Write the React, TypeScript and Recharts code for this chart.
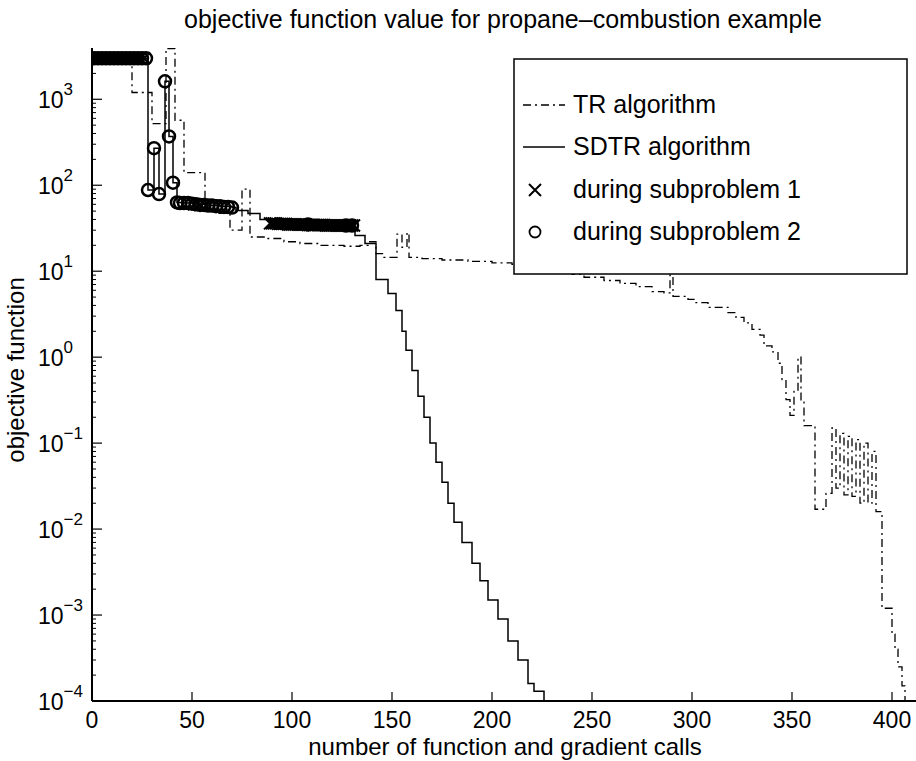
import React from 'react';
import { ComposedChart, Line, Scatter, XAxis, YAxis } from 'recharts';

const FONT = '"Liberation Sans", Arial, Helvetica, sans-serif';

// TR algorithm: call count where each value starts, and the objective value
const trCalls = [0, 20, 30, 37, 41.5, 46, 56.5, 62, 63, 69, 75, 79, 88, 96, 104, 114, 126, 134, 138, 142, 146, 152.5, 155, 157.5, 158.5, 165, 175, 188, 200, 210, 222, 232, 240, 246, 256, 264, 272, 280, 286, 289, 290.5, 298, 302, 308, 314, 318, 322, 326, 330, 334, 336, 340, 343, 345, 347, 349, 351, 353, 354.5, 356, 361.5, 367, 370, 372, 374, 376, 378, 380, 382, 384, 386, 388, 390, 392, 395, 400, 401.5, 403, 405, 406.5];
const trValues = [3000, 1200, 520, 3900, 570, 140, 68, 55, 47, 30, 90, 25, 24, 22, 21, 20, 19.5, 20, 22, 16, 14.5, 27, 19, 28, 14.5, 14, 13.5, 13, 12.5, 12, 11, 10, 9.2, 8.5, 7.8, 7.2, 6.6, 5.8, 5.6, 9, 5.1, 4.7, 4.3, 3.8, 3.8, 3.3, 2.9, 2.5, 2.1, 1.8, 1.35, 1.15, 0.85, 0.55, 0.32, 0.21, 0.4, 1.0, 0.3, 0.16, 0.017, 0.026, 0.15, 0.03, 0.13, 0.025, 0.12, 0.024, 0.11, 0.02, 0.1, 0.02, 0.08, 0.016, 0.0012, 0.0006, 0.0004, 0.00025, 0.00015, 0.00005];

// SDTR algorithm
const sdtrCalls = [0, 28, 31, 33.5, 36.5, 38.5, 40.5, 42.5, 46, 52, 58, 64, 70, 72, 78, 84, 89, 100, 115, 125, 131.5, 136.5, 142, 148, 152, 155, 157, 160, 163, 166, 169, 172, 175, 178, 181, 185, 190, 194, 198, 203, 208, 213, 218, 221, 226];
const sdtrValues = [3000, 88, 270, 79, 1620, 370, 107, 63, 62, 60, 58, 57, 55, 51, 47, 40, 36, 35, 34.5, 34, 26, 21, 8, 5.5, 3.5, 2.0, 1.2, 0.7, 0.35, 0.2, 0.1, 0.06, 0.035, 0.02, 0.012, 0.007, 0.004, 0.0025, 0.0015, 0.0009, 0.0005, 0.0003, 0.00016, 0.00013, 0.00005];

// iterates during subproblem 1 (x)
const sub1Calls = [0, 2, 4, 6, 8, 10, 12, 14, 16, 18, 20, 22, 24, 26, 51, 54, 57,
  89, 90, 91, 92, 93, 94, 95, 96, 97, 98, 99, 100, 101, 102, 103, 104, 105, 106, 107, 108, 109, 110,
  111, 112, 113, 114, 115, 116, 117, 118, 119, 120, 121, 122, 123, 124, 125, 126, 127, 128, 129, 130, 131];
const sub1Values = [3000, 3000, 3000, 3000, 3000, 3000, 3000, 3000, 3000, 3000, 3000, 3000, 3000, 3000, 60, 59, 58,
  36, 36, 36, 36, 35.5, 35.5, 35.5, 35.5, 35.5, 35, 35, 35, 35, 35, 35, 35, 35, 35, 35, 34.5, 34.5,
  34.5, 34.5, 34.5, 34.5, 34.5, 34.5, 34.5, 34, 34, 34, 34, 34, 34, 34, 34, 34, 34, 34, 34, 34, 34, 34];
// iterates during subproblem 2 (o)
const sub2Calls = [1, 3, 5, 7, 9, 11, 13, 15, 17, 19, 21, 23, 25, 27,
  28, 31, 33.5, 36.5, 38.5, 40.5, 42.5, 44, 46, 48, 50, 52, 54, 56, 58, 60, 62, 64, 66, 68, 70, 108, 127, 130];
const sub2Values = [3000, 3000, 3000, 3000, 3000, 3000, 3000, 3000, 3000, 3000, 3000, 3000, 3000, 3000,
  88, 270, 79, 1620, 370, 107, 63, 62, 62, 62, 61, 60, 59, 59, 58, 58, 57, 57, 56, 56, 55, 35, 34, 34];

const xTicks = [0, 50, 100, 150, 200, 250, 300, 350, 400];
const yDecades = [1e-4, 1e-3, 1e-2, 1e-1, 1, 10, 100, 1000];
const yExponents = ['\u22124', '\u22123', '\u22122', '\u22121', '0', '1', '2', '3'];
const yMinorSteps = [2, 3, 4, 5, 6, 7, 8, 9];

const X_MAX = 412;
const Y_MIN = 1e-4;
const Y_MAX = 3950;

const toPoints = (calls: number[], values: number[]) => calls.map((x, i) => ({ x, v: values[i] }));
const trData = toPoints(trCalls, trValues);
const sdtrData = toPoints(sdtrCalls, sdtrValues);
const sub1Data = toPoints(sub1Calls, sub1Values);
const sub2Data = toPoints(sub2Calls, sub2Values);

const yTicks = [
  ...yDecades,
  ...yDecades.flatMap((d) => yMinorSteps.map((m) => d * m)).filter((v) => v < Y_MAX),
];

const BottomTick = ({ x, y, payload }: any) => (
  <g>
    <line x1={x} x2={x} y1={y} y2={y - 9} stroke="#000" strokeWidth={1.2} />
    <text x={x} y={y + 27} textAnchor="middle" fontSize={23} fontFamily={FONT} fill="#000">
      {payload.value}
    </text>
  </g>
);

const TopTick = ({ x, y }: any) => <line x1={x} x2={x} y1={y} y2={y + 9} stroke="#000" strokeWidth={1.2} />;

const LeftTick = ({ x, y, payload }: any) => {
  const i = yDecades.indexOf(payload.value);
  if (i < 0) return <line x1={x} x2={x + 4} y1={y} y2={y} stroke="#000" strokeWidth={1} />;
  return (
    <g>
      <line x1={x} x2={x + 10} y1={y} y2={y} stroke="#000" strokeWidth={1.2} />
      <text x={38} y={y + 9} fontSize={23} fontFamily={FONT} fill="#000">
        10
        <tspan dy={-13} fontSize={17}>{yExponents[i]}</tspan>
      </text>
    </g>
  );
};

const Cross = ({ cx, cy }: any) => (
  <path d={`M${cx - 6},${cy - 6}L${cx + 6},${cy + 6}M${cx - 6},${cy + 6}L${cx + 6},${cy - 6}`} stroke="#000" strokeWidth={2} fill="none" />
);
const Ring = ({ cx, cy }: any) => <circle cx={cx} cy={cy} r={6} fill="none" stroke="#000" strokeWidth={2.5} />;

const legendRows = [
  { label: 'TR algorithm', y: 105 },
  { label: 'SDTR algorithm', y: 147 },
  { label: 'during subproblem 1', y: 190 },
  { label: 'during subproblem 2', y: 232 },
];

export default function App() {
  return (
    <div style={{ position: 'absolute', left: 0, top: 0, width: 916, height: 761, overflow: 'hidden', background: '#fff' }}>
      <ComposedChart width={916} height={761} margin={{ top: 48, right: 0, bottom: 0, left: 0 }}>
        <XAxis
          dataKey="x"
          type="number"
          domain={[0, X_MAX]}
          ticks={xTicks}
          interval={0}
          allowDataOverflow
          height={60}
          tickSize={0}
          tickMargin={0}
          tickLine={false}
          tick={<BottomTick />}
          axisLine={{ stroke: '#000', strokeWidth: 2 }}
        />
        <XAxis
          xAxisId="top"
          orientation="top"
          dataKey="x"
          type="number"
          domain={[0, X_MAX]}
          ticks={xTicks}
          interval={0}
          height={0}
          tickSize={0}
          tickMargin={0}
          tickLine={false}
          tick={<TopTick />}
          axisLine={{ stroke: '#000', strokeWidth: 1.5 }}
        />
        <YAxis
          dataKey="v"
          type="number"
          scale="log"
          domain={[Y_MIN, Y_MAX]}
          ticks={yTicks}
          interval={0}
          allowDataOverflow
          width={92}
          tickSize={0}
          tickMargin={0}
          tickLine={false}
          tick={<LeftTick />}
          axisLine={{ stroke: '#000', strokeWidth: 2 }}
        />
        <Line
          data={trData}
          dataKey="v"
          type="stepAfter"
          stroke="#000"
          strokeWidth={1.3}
          strokeDasharray="8 4 2 4"
          dot={false}
          isAnimationActive={false}
        />
        <Line
          data={sdtrData}
          dataKey="v"
          type="stepAfter"
          stroke="#000"
          strokeWidth={1.5}
          dot={false}
          isAnimationActive={false}
        />
        <Scatter data={sub1Data} dataKey="v" shape={<Cross />} isAnimationActive={false} />
        <Scatter data={sub2Data} dataKey="v" shape={<Ring />} isAnimationActive={false} />
      </ComposedChart>
      <svg width={916} height={761} style={{ position: 'absolute', left: 0, top: 0, pointerEvents: 'none' }}>
        <text x={503} y={28} textAnchor="middle" fontSize={25} fontFamily={FONT} fill="#000">
          objective function value for propane–combustion example
        </text>
        <text x={505} y={755} textAnchor="middle" fontSize={24} fontFamily={FONT} fill="#000">
          number of function and gradient calls
        </text>
        <text transform="translate(24,370) rotate(-90)" textAnchor="middle" fontSize={24} fontFamily={FONT} fill="#000">
          objective function
        </text>
        <rect x={514} y={59} width={393} height={215} fill="#fff" stroke="#000" strokeWidth={1.5} />
        <line x1={523} x2={565} y1={105} y2={105} stroke="#000" strokeWidth={1.3} strokeDasharray="8 4 2 4" />
        <line x1={523} x2={565} y1={147} y2={147} stroke="#000" strokeWidth={1.5} />
        <Cross cx={535} cy={190} />
        <circle cx={535} cy={232} r={5.5} fill="none" stroke="#000" strokeWidth={1.8} />
        {legendRows.map((r) => (
          <text key={r.label} x={573} y={r.y + 8} fontSize={25} fontFamily={FONT} fill="#000">
            {r.label}
          </text>
        ))}
      </svg>
    </div>
  );
}
